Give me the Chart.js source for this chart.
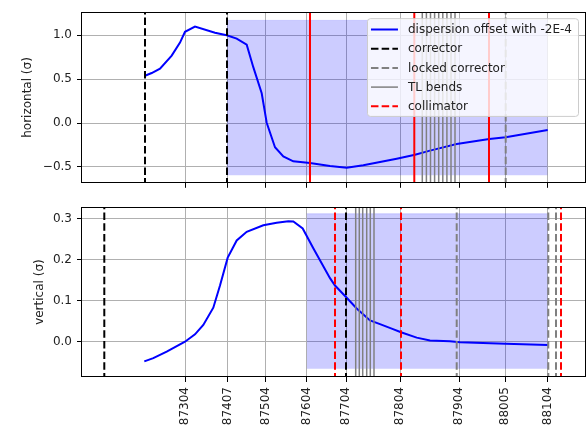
<!DOCTYPE html>
<html>
<head>
<meta charset="UTF-8">
<title>Dispersion offset</title>
<script src="https://cdn.jsdelivr.net/npm/chart.js"></script>
<style>
  body { margin: 0; background: #fff; }
  #wrap { position: relative; width: 588px; height: 427px; }
  canvas { position: absolute; left: 0; }
</style>
</head>
<body>
<div id="wrap">
  <canvas id="hChart" width="588" height="195" style="top:0"></canvas>
  <canvas id="vChart" width="588" height="232" style="top:195px"></canvas>
</div>
<script>
// position along the line (s) and the element names used as tick labels
const sMin = 0, sMax = 503;
const tickPos = [103, 145.7, 183.7, 224.7, 264, 318, 377, 423, 465.7];
const tickLabels = ['87304', '87407', '87504', '87604', '87704', '87804', '87904', '88005', '88104'];

// horizontal plane
const hS = [62.3, 69.7, 78, 89.7, 98, 103, 113, 133, 144.7, 154.7, 164.7, 171.3, 179.7, 184.7,
            193, 201.3, 211.3, 228, 248, 264.7, 281.3, 314.7, 333, 348, 374.7, 407.3, 423.7, 465.7];
const hOffset = [0.535, 0.568, 0.617, 0.766, 0.914, 1.037, 1.097, 1.026, 0.997, 0.96, 0.89, 0.635, 0.338, 0.003,
                 -0.276, -0.38, -0.436, -0.454, -0.49, -0.51, -0.481, -0.406, -0.362, -0.314, -0.239, -0.183, -0.161, -0.079];
const hCorrectors = [63, 145];
const hLocked = [423.7];
const hBends = [340.3, 344.4, 348.5, 352.6, 356.7, 360.8, 364.9, 369, 373];
const hCollimators = [228, 332.3, 407];
const hWindow = [145, 465.7];
const hBand = [-0.594, 1.167];
const hYTicks = [-0.5, 0, 0.5, 1.0];
const hYRange = [-0.68, 1.26];

// vertical plane
const vS = [62.3, 71.3, 84.7, 103, 113, 121.3, 131.3, 138, 145.7, 154.7, 164.7, 181.3, 194.7, 206.3, 211.3,
            220.7, 231.3, 248, 253, 264, 274.7, 288, 298, 309.7, 319, 334.7, 348, 368, 378, 423.7, 465.7];
const vOffset = [-0.048, -0.040, -0.024, 0.0, 0.018, 0.041, 0.083, 0.137, 0.205, 0.247, 0.268, 0.284, 0.290, 0.294, 0.293,
                 0.276, 0.228, 0.155, 0.137, 0.109, 0.081, 0.052, 0.043, 0.032, 0.023, 0.010, 0.003, 0.001, -0.001, -0.005, -0.008];
const vCorrectors = [22.3, 264];
const vLocked = [374.7, 466.3, 474];
const vBends = [273.7, 277.3, 280.7, 284.7, 288.3, 292];
const vCollimators = [253, 319, 479];
const vWindow = [224.7, 465.7];
const vBand = [-0.066, 0.312];
const vYTicks = [0.0, 0.1, 0.2, 0.3];
const vYRange = [-0.086, 0.328];

// legend
const legendLabels = ['dispersion offset with -2E-4', 'corrector', 'locked corrector', 'TL bends', 'collimator'];
const legendColors = ['#0000ff', '#000000', '#808080', '#808080', '#ff0000'];
const legendDashed = [false, true, true, false, true];

const FONT = { family: 'DejaVu Sans', size: 12 };
const DASH = [7.5, 3.2];

function vlines(xs, color, width, dash, order) {
  return xs.map(x => ({
    data: [{ x: x, y: -100 }, { x: x, y: 100 }],
    borderColor: color, borderWidth: width, borderDash: dash,
    pointRadius: 0, order: order
  }));
}

function buildDatasets(s, y, window, band, corr, locked, bends, coll, collDash) {
  const pts = s.map((v, i) => ({ x: v, y: y[i] }));
  return [
    { data: [{ x: window[0], y: band[1] }, { x: window[1], y: band[1] }],
      fill: { value: band[0] }, backgroundColor: 'rgba(0,0,255,0.2)',
      borderColor: 'rgba(0,0,255,0.15)', borderWidth: 1, pointRadius: 0, order: 6 },
    { data: pts, borderColor: '#0000ff', borderWidth: 2, pointRadius: 0, tension: 0, order: 5 },
    ...vlines(corr, '#000000', 2, DASH, 4),
    ...vlines(locked, '#808080', 2, DASH, 3),
    ...vlines(bends, '#808080', 1.5, [], 2),
    ...vlines(coll, '#ff0000', 2, collDash, 1)
  ];
}

const frame = {
  id: 'frame',
  afterDraw(chart) {
    const { ctx, chartArea: a } = chart;
    ctx.save();
    ctx.strokeStyle = '#000';
    ctx.lineWidth = 1;
    ctx.strokeRect(Math.round(a.left) - 0.5, Math.round(a.top) + 0.5,
                   Math.round(a.right - a.left) + 1, Math.round(a.bottom - a.top) - 1);
    ctx.restore();
  }
};

const boxLegend = {
  id: 'boxLegend',
  afterDraw(chart) {
    const { ctx, chartArea: a } = chart;
    ctx.save();
    ctx.font = '12px "DejaVu Sans"';
    const textW = Math.max(...legendLabels.map(t => ctx.measureText(t).width));
    const w = 4 + 27 + 10 + textW + 6;
    const rowH = 19.2;
    const h = 11.3 + (legendLabels.length - 1) * rowH + 9.6;
    const x0 = a.right - 7 - w, y0 = a.top + 6;
    ctx.beginPath();
    ctx.roundRect(x0 + 0.5, y0 + 0.5, w, h, 3);
    ctx.fillStyle = 'rgba(255,255,255,0.8)';
    ctx.fill();
    ctx.strokeStyle = '#cccccc';
    ctx.lineWidth = 1;
    ctx.stroke();
    legendLabels.forEach((t, i) => {
      const yc = y0 + 11.3 + i * rowH;
      ctx.beginPath();
      ctx.setLineDash(legendDashed[i] ? DASH : []);
      ctx.strokeStyle = legendColors[i];
      ctx.lineWidth = i === 3 ? 1.5 : 2;
      ctx.moveTo(x0 + 4, yc);
      ctx.lineTo(x0 + 31, yc);
      ctx.stroke();
      ctx.setLineDash([]);
      ctx.fillStyle = '#222';
      ctx.textBaseline = 'middle';
      ctx.fillText(t, x0 + 41, yc + 0.5);
    });
    ctx.restore();
  }
};

function fmt(v) {
  return v.toFixed(1).replace('-', '\u2212');
}

function makeChart(id, p) {
  return new Chart(document.getElementById(id), {
    type: 'line',
    data: { datasets: p.datasets },
    options: {
      responsive: false,
      animation: false,
      layout: { padding: { left: p.padLeft, right: 3, top: p.padTop, bottom: 0 } },
      plugins: { legend: { display: false }, tooltip: { enabled: false } },
      scales: {
        x: {
          type: 'linear', min: sMin, max: sMax,
          afterBuildTicks: s => { s.ticks = tickPos.map(v => ({ value: v })); },
          afterFit: s => { s.height = p.xHeight; },
          grid: { color: '#b0b0b0', tickColor: '#000', tickLength: 5 },
          border: { display: false },
          ticks: {
            display: p.showX, autoSkip: false, minRotation: 90, maxRotation: 90,
            padding: 5, color: '#222', font: FONT,
            callback: (v, i) => tickLabels[i]
          }
        },
        y: {
          min: p.yRange[0], max: p.yRange[1],
          afterBuildTicks: s => { s.ticks = p.yTicks.map(v => ({ value: v })); },
          afterFit: s => { s.width = p.yWidth; },
          grid: { color: '#b0b0b0', tickColor: '#000', tickLength: 5 },
          border: { display: false },
          ticks: { padding: 5, color: '#222', font: FONT, callback: v => fmt(v) },
          title: { display: true, text: p.title, color: '#222', font: FONT, padding: { top: 4, bottom: 4 } }
        }
      }
    },
    plugins: p.plugins
  });
}

makeChart('hChart', {
  datasets: buildDatasets(hS, hOffset, hWindow, hBand, hCorrectors, hLocked, hBends, hCollimators, []),
  padLeft: 17, yWidth: 65, padTop: 11, xHeight: 11, showX: false,
  yRange: hYRange, yTicks: hYTicks, title: 'horizontal (\u03c3)',
  plugins: [frame, boxLegend]
});

makeChart('vChart', {
  datasets: buildDatasets(vS, vOffset, vWindow, vBand, vCorrectors, vLocked, vBends, vCollimators, DASH),
  padLeft: 29, yWidth: 53, padTop: 8, xHeight: 50, showX: true,
  yRange: vYRange, yTicks: vYTicks, title: 'vertical (\u03c3)',
  plugins: [frame]
});
</script>
</body>
</html>
